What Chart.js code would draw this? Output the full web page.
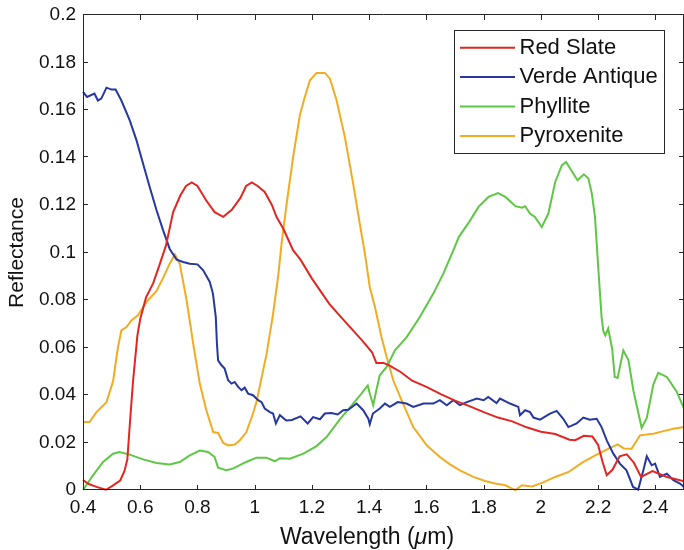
<!DOCTYPE html>
<html>
<head>
<meta charset="utf-8">
<script src="https://cdn.jsdelivr.net/npm/chart.js@4/dist/chart.umd.min.js"></script>
<style>
  html, body { margin: 0; padding: 0; background: #fff; }
  canvas { display: block; }
</style>
</head>
<body>
<canvas id="canvas" width="684" height="550"></canvas>
<script>
// spectral reflectance of four rock samples, wavelength in micrometres
const seriesNames = ['Red Slate', 'Verde Antique', 'Phyllite', 'Pyroxenite'];
const seriesColors = ['rgb(226, 38, 33)', 'rgb(38, 56, 158)', 'rgb(96, 198, 70)', 'rgb(242, 172, 34)'];

const xTicks = [0.4, 0.6, 0.8, 1, 1.2, 1.4, 1.6, 1.8, 2, 2.2, 2.4];
const yTicks = [0, 0.02, 0.04, 0.06, 0.08, 0.1, 0.12, 0.14, 0.16, 0.18, 0.2];

const redSlateX = [0.40, 0.42, 0.45, 0.48, 0.50, 0.53, 0.545, 0.555, 0.565, 0.575, 0.59, 0.60, 0.62, 0.645, 0.668, 0.69,
  0.715, 0.74, 0.76, 0.78, 0.80, 0.83, 0.86, 0.89, 0.92, 0.95, 0.97, 0.99, 1.01, 1.035, 1.06, 1.076, 1.10, 1.134, 1.16,
  1.20, 1.26, 1.30, 1.33, 1.375, 1.41, 1.425, 1.45, 1.47, 1.51, 1.55, 1.60, 1.65, 1.70, 1.75, 1.80, 1.85, 1.90, 1.95,
  2.00, 2.05, 2.10, 2.12, 2.15, 2.18, 2.20, 2.215, 2.23, 2.25, 2.275, 2.30, 2.325, 2.35, 2.39, 2.44, 2.50];
const redSlateY = [0.0042, 0.0025, 0.0012, 0.0001, 0.0015, 0.0040, 0.008, 0.013, 0.030, 0.046, 0.065, 0.072, 0.081, 0.087, 0.095, 0.103,
  0.117, 0.124, 0.128, 0.1295, 0.128, 0.122, 0.117, 0.115, 0.118, 0.123, 0.128, 0.1295, 0.128, 0.1255, 0.120, 0.115, 0.110, 0.101, 0.097,
  0.089, 0.0785, 0.073, 0.069, 0.063, 0.058, 0.0535, 0.0535, 0.0525, 0.0497, 0.046, 0.0434, 0.0404, 0.0376, 0.0353, 0.0328, 0.0305, 0.0289, 0.0264,
  0.0245, 0.0236, 0.0212, 0.021, 0.0228, 0.0225, 0.019, 0.012, 0.0062, 0.0085, 0.0142, 0.015, 0.0115, 0.0055, 0.0080, 0.0055, 0.0037];

const verdeAntiqueX = [0.40, 0.414, 0.44, 0.452, 0.464, 0.482, 0.50, 0.514, 0.534, 0.563, 0.587, 0.61, 0.633, 0.657, 0.68, 0.703,
  0.727, 0.75, 0.773, 0.80, 0.82, 0.843, 0.854, 0.864, 0.868, 0.872, 0.884, 0.895, 0.907, 0.919, 0.93, 0.942, 0.954, 0.965,
  0.977, 0.994, 1.012, 1.024, 1.035, 1.053, 1.064, 1.074, 1.088, 1.11, 1.13, 1.16, 1.185, 1.204, 1.228, 1.245, 1.268, 1.29,
  1.309, 1.327, 1.356, 1.379, 1.397, 1.402, 1.413, 1.437, 1.455, 1.472, 1.50, 1.53, 1.554, 1.59, 1.624, 1.647, 1.671, 1.694,
  1.717, 1.741, 1.776, 1.80, 1.816, 1.845, 1.857, 1.892, 1.921, 1.927, 1.945, 1.962, 1.974, 1.997, 2.032, 2.055, 2.078, 2.096,
  2.125, 2.148, 2.171, 2.195, 2.212, 2.23, 2.253, 2.276, 2.299, 2.322, 2.34, 2.358, 2.37, 2.387, 2.399, 2.416, 2.44, 2.463,
  2.486, 2.50];
const verdeAntiqueY = [0.1676, 0.1655, 0.1669, 0.164, 0.1648, 0.1694, 0.1686, 0.1686, 0.164, 0.1557, 0.1472, 0.1374, 0.1276, 0.1178, 0.1093, 0.1015,
  0.097, 0.096, 0.0953, 0.095, 0.0925, 0.0876, 0.0827, 0.0728, 0.0616, 0.0546, 0.0525, 0.0511, 0.0462, 0.0448, 0.0455, 0.0434, 0.042, 0.0431,
  0.0406, 0.0399, 0.0378, 0.037, 0.0343, 0.0328, 0.0322, 0.028, 0.0315, 0.0293, 0.0295, 0.031, 0.028, 0.0307, 0.0298, 0.0322, 0.0324, 0.0318,
  0.0336, 0.0338, 0.0364, 0.0336, 0.030, 0.0277, 0.0322, 0.0343, 0.0364, 0.035, 0.037, 0.0364, 0.035, 0.0364, 0.0364, 0.0378, 0.0357, 0.0378,
  0.0357, 0.037, 0.0385, 0.0378, 0.0392, 0.0366, 0.0385, 0.0364, 0.035, 0.0315, 0.0336, 0.0328, 0.0305, 0.0296, 0.0322, 0.0333, 0.030, 0.0265,
  0.028, 0.0305, 0.0296, 0.030, 0.0265, 0.0209, 0.0153, 0.0111, 0.0083, 0.0013, 0.0002, 0.0083, 0.0142, 0.0104, 0.0111, 0.0055, 0.0069, 0.0041,
  0.0027, 0.0013];

const phylliteX = [0.40, 0.435, 0.47, 0.505, 0.528, 0.563, 0.61, 0.657, 0.703, 0.738, 0.773, 0.808, 0.837, 0.86, 0.872, 0.90,
  0.924, 0.97, 1.006, 1.041, 1.07, 1.088, 1.123, 1.17, 1.216, 1.251, 1.298, 1.344, 1.373, 1.395, 1.402, 1.414, 1.425, 1.437,
  1.461, 1.49, 1.531, 1.577, 1.624, 1.659, 1.694, 1.713, 1.75, 1.782, 1.817, 1.85, 1.876, 1.911, 1.934, 1.945, 1.962, 1.979,
  2.003, 2.026, 2.05, 2.073, 2.088, 2.108, 2.128, 2.15, 2.166, 2.178, 2.189, 2.201, 2.212, 2.218, 2.225, 2.235, 2.249, 2.258,
  2.268, 2.288, 2.306, 2.323, 2.352, 2.37, 2.393, 2.41, 2.44, 2.475, 2.50];
const phylliteY = [0.000, 0.0062, 0.0118, 0.0153, 0.016, 0.0149, 0.0129, 0.0114, 0.0107, 0.0118, 0.0146, 0.0166, 0.016, 0.0139, 0.0094, 0.0083,
  0.009, 0.0118, 0.0136, 0.0136, 0.0121, 0.0134, 0.0132, 0.0153, 0.0185, 0.0223, 0.0298, 0.0364, 0.0406, 0.044, 0.0406, 0.0357, 0.042, 0.0483,
  0.0518, 0.0588, 0.0644, 0.0728, 0.0827, 0.0911, 0.1009, 0.1065, 0.113, 0.1192, 0.1234, 0.125, 0.1234, 0.1195, 0.1189, 0.1195, 0.1164, 0.115,
  0.1107, 0.1164, 0.1297, 0.1367, 0.1381, 0.1342, 0.1304, 0.1329, 0.1311, 0.1248, 0.115, 0.0925, 0.0728, 0.067, 0.0651, 0.068, 0.0595, 0.0476,
  0.0472, 0.0588, 0.0546, 0.042, 0.0262, 0.0303, 0.0445, 0.0493, 0.0476, 0.0413, 0.0343];

const pyroxeniteX = [0.40, 0.423, 0.447, 0.482, 0.505, 0.522, 0.534, 0.552, 0.569, 0.592, 0.622, 0.657, 0.68, 0.703, 0.721, 0.738,
  0.762, 0.785, 0.808, 0.831, 0.855, 0.872, 0.89, 0.907, 0.93, 0.948, 0.971, 0.994, 1.006, 1.041, 1.064, 1.082, 1.094, 1.111,
  1.134, 1.158, 1.175, 1.193, 1.216, 1.245, 1.263, 1.286, 1.315, 1.344, 1.367, 1.385, 1.402, 1.42, 1.443, 1.461, 1.484, 1.513,
  1.554, 1.601, 1.647, 1.682, 1.717, 1.764, 1.805, 1.84, 1.876, 1.899, 1.911, 1.934, 1.969, 2.004, 2.05, 2.097, 2.144, 2.19,
  2.237, 2.268, 2.29, 2.317, 2.346, 2.393, 2.428, 2.463, 2.50];
const pyroxeniteY = [0.0286, 0.0286, 0.0328, 0.037, 0.0458, 0.060, 0.0672, 0.0686, 0.0714, 0.0736, 0.0792, 0.0838, 0.0893, 0.0953, 0.0992, 0.0953,
  0.0799, 0.0616, 0.0448, 0.0336, 0.0244, 0.024, 0.0198, 0.0188, 0.0191, 0.0209, 0.0244, 0.0322, 0.037, 0.057, 0.074, 0.090, 0.104, 0.120,
  0.140, 0.158, 0.1655, 0.1725, 0.1756, 0.1756, 0.1732, 0.1641, 0.1486, 0.129, 0.1122, 0.0995, 0.0855, 0.0771, 0.0644, 0.056, 0.0462, 0.0378,
  0.0265, 0.0188, 0.0139, 0.0108, 0.0083, 0.0055, 0.0038, 0.0027, 0.002, 0.0006, 0.000, 0.002, 0.0015, 0.003, 0.0055, 0.0076, 0.0115, 0.0146,
  0.0174, 0.0192, 0.0175, 0.0174, 0.023, 0.0237, 0.0248, 0.0258, 0.0265];

const allX = [redSlateX, verdeAntiqueX, phylliteX, pyroxeniteX];
const allY = [redSlateY, verdeAntiqueY, phylliteY, pyroxeniteY];

const axisColor = '#262626';
const textColor = '#111';
const fontFamily = '"Liberation Sans", Arial, Helvetica, sans-serif';

function points(xs, ys) {
    return xs.map((x, i) => ({ x: x, y: ys[i] }));
}

function fmt(v) {
    return String(+Number(v).toFixed(2));
}

// box round the plot, with short inward ticks on all four sides
const axesBox = {
    id: 'axesBox',
    afterDatasetsDraw(chart) {
        const { ctx, chartArea: a, scales } = chart;
        const len = 5;
        ctx.save();
        ctx.strokeStyle = axisColor;
        ctx.lineWidth = 1;
        ctx.beginPath();
        ctx.moveTo(a.left + 0.5, a.top - 0.5);
        ctx.lineTo(a.right - 0.5, a.top - 0.5);
        ctx.lineTo(a.right - 0.5, a.bottom - 0.5);
        ctx.lineTo(a.left + 0.5, a.bottom - 0.5);
        ctx.closePath();
        scales.x.ticks.forEach(t => {
            const px = Math.round(scales.x.getPixelForValue(t.value)) + 0.5;
            ctx.moveTo(px, a.bottom); ctx.lineTo(px, a.bottom - len);
            ctx.moveTo(px, a.top); ctx.lineTo(px, a.top + len);
        });
        scales.y.ticks.forEach(t => {
            const py = Math.round(scales.y.getPixelForValue(t.value)) - 0.5;
            ctx.moveTo(a.left, py); ctx.lineTo(a.left + len, py);
            ctx.moveTo(a.right, py); ctx.lineTo(a.right - len, py);
        });
        ctx.stroke();
        ctx.restore();
    }
};

// x axis title, with the mu set in italic
const xTitle = {
    id: 'xTitle',
    afterDraw(chart) {
        const { ctx } = chart;
        const parts = [['Wavelength (', ''], ['μ', 'italic '], ['m)', '']];
        const size = 23;
        ctx.save();
        ctx.fillStyle = textColor;
        ctx.textBaseline = 'middle';
        ctx.textAlign = 'left';
        const widths = parts.map(p => {
            ctx.font = p[1] + size + 'px ' + fontFamily;
            return ctx.measureText(p[0]).width;
        });
        const total = widths.reduce((s, w) => s + w, 0);
        let x = 367 - total / 2;
        parts.forEach((p, i) => {
            ctx.font = p[1] + size + 'px ' + fontFamily;
            ctx.fillText(p[0], x, 538);
            x += widths[i];
        });
        ctx.restore();
    }
};

// boxed legend in the upper right corner of the plot
const legendBox = {
    id: 'legendBox',
    afterDraw(chart) {
        const { ctx, chartArea: a } = chart;
        const sets = chart.data.datasets;
        ctx.save();
        ctx.font = '22px ' + fontFamily;
        const textW = Math.max(...sets.map(d => ctx.measureText(d.label).width));
        const pad = 6, sample = 55, gap = 4.5, rowH = 29.4;
        const w = pad + sample + gap + textW + pad;
        const h = 35 + rowH * (sets.length - 1);
        const left = Math.round(a.right - 20 - w), top = Math.round(a.top + 15);
        ctx.fillStyle = '#fff';
        ctx.fillRect(left, top, w, h);
        ctx.strokeStyle = axisColor;
        ctx.lineWidth = 1;
        ctx.strokeRect(left + 0.5, top + 0.5, Math.round(w), Math.round(h));
        sets.forEach((d, i) => {
            const cy = top + 17.7 + i * rowH;
            ctx.strokeStyle = d.borderColor;
            ctx.lineWidth = 2;
            ctx.beginPath();
            ctx.moveTo(left + pad, cy);
            ctx.lineTo(left + pad + sample, cy);
            ctx.stroke();
            ctx.fillStyle = textColor;
            ctx.textBaseline = 'middle';
            ctx.textAlign = 'left';
            ctx.fillText(d.label, left + pad + sample + gap, cy);
        });
        ctx.restore();
    }
};

window.onload = function () {
    const datasets = seriesNames.map((name, i) => ({
        label: name,
        data: points(allX[i], allY[i]),
        borderColor: seriesColors[i],
        backgroundColor: seriesColors[i],
        borderWidth: 2,
        pointRadius: 0,
        tension: 0,
        fill: false,
        clip: 3
    }));

    const ctx = document.getElementById('canvas').getContext('2d');
    window.myLine = new Chart(ctx, {
        type: 'line',
        data: { datasets: datasets },
        plugins: [axesBox, xTitle, legendBox],
        options: {
            responsive: false,
            animation: false,
            events: [],
            layout: { autoPadding: false, padding: { top: 15, right: 0, bottom: 0, left: 0 } },
            plugins: {
                legend: { display: false },
                tooltip: { enabled: false }
            },
            scales: {
                x: {
                    type: 'linear',
                    min: 0.4,
                    max: 2.5,
                    afterBuildTicks: s => { s.ticks = xTicks.map(v => ({ value: v })); },
                    afterFit: s => {
                        s.height = 60;
                        s.paddingLeft = 0; s.paddingRight = 0;
                    },
                    grid: { display: false, drawTicks: false },
                    border: { display: false },
                    ticks: {
                        padding: 6,
                        maxRotation: 0,
                        color: textColor,
                        font: { family: fontFamily, size: 19 },
                        callback: v => fmt(v)
                    }
                },
                y: {
                    min: 0,
                    max: 0.2,
                    afterBuildTicks: s => { s.ticks = yTicks.map(v => ({ value: v })); },
                    afterFit: s => {
                        s.width = 83;
                        s.paddingTop = 0; s.paddingBottom = 0;
                    },
                    grid: { display: false, drawTicks: false },
                    border: { display: false },
                    ticks: {
                        padding: 7,
                        color: textColor,
                        font: { family: fontFamily, size: 19, lineHeight: 0.8 },
                        callback: v => fmt(v)
                    },
                    title: {
                        display: true,
                        text: 'Reflectance',
                        color: textColor,
                        font: { family: fontFamily, size: 21 },
                        padding: { top: 5, bottom: 0 }
                    }
                }
            }
        }
    });
};
</script>
</body>
</html>
